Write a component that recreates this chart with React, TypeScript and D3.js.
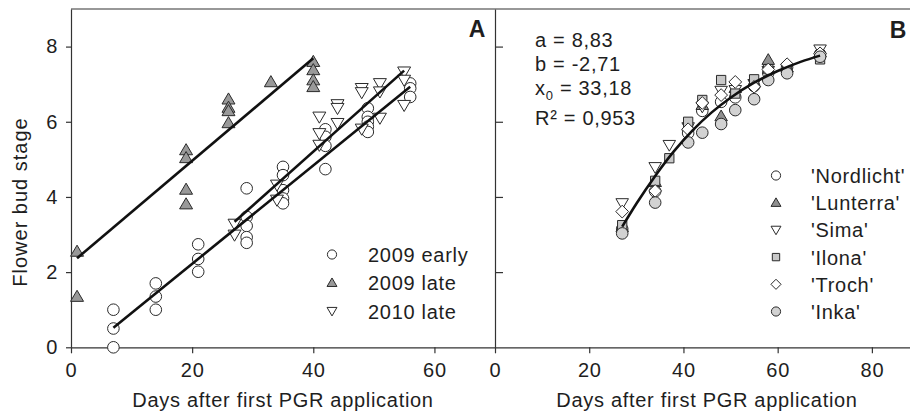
import React, { useEffect, useRef } from "react";
import * as d3 from "d3";

type Pt = [number, number];

// Panel A: flower bud stage per sampling date, three trials
const early2009: Pt[] = [
  [7, 1.0], [7, 0.5], [7, 0.0],
  [14, 1.7], [14, 1.35], [14, 1.0],
  [21, 2.74], [21, 2.35], [21, 2.01],
  [29, 4.23], [29, 3.47], [29, 3.23], [29, 2.93], [29, 2.78],
  [35, 4.8], [35, 4.58], [35, 4.18], [35, 3.96], [35, 3.83],
  [42, 5.8], [42, 5.6], [42, 5.36], [42, 4.74],
  [49, 6.36], [49, 6.13], [49, 6.0], [49, 5.87], [49, 5.73],
  [56, 7.02], [56, 6.89], [56, 6.66],
];
const late2009: Pt[] = [
  [1, 2.55], [1, 1.35],
  [19, 5.25], [19, 5.04], [19, 4.2], [19, 3.81],
  [26, 6.6], [26, 6.38], [26, 6.29], [26, 5.97],
  [33, 7.06],
  [40, 7.6], [40, 7.38], [40, 7.11], [40, 6.93],
];
const late2010: Pt[] = [
  [27, 3.28], [27, 2.99],
  [34, 4.32], [34, 3.92],
  [41, 6.13], [41, 5.69], [41, 5.38],
  [44, 6.46], [44, 6.36], [44, 5.96],
  [48, 6.89], [48, 6.78], [48, 5.81],
  [51, 7.02], [51, 6.8], [51, 6.1],
  [55, 7.33], [55, 7.11], [55, 6.44],
];
// regression lines (end points)
const fitEarly2009: Pt[] = [[7, 0.52], [56, 6.93]];
const fitLate2009: Pt[] = [[1, 2.37], [40, 7.69]];
const fitLate2010: Pt[] = [[27, 3.34], [55, 7.36]];

// Panel B: cultivars
const nordlicht: Pt[] = [[27, 3.15], [34, 4.15], [41, 5.7], [44, 6.29], [48, 6.53], [51, 6.65], [55, 6.95], [58, 7.3], [62, 7.45], [69, 7.8]];
const lunterra: Pt[] = [[27, 3.2], [34, 4.4], [41, 5.9], [44, 6.45], [48, 6.15], [51, 6.9], [55, 7.05], [58, 7.65], [62, 7.45], [69, 7.85]];
const sima: Pt[] = [[27, 3.83], [34, 4.79], [37, 5.38], [41, 5.85], [44, 6.4], [48, 6.82], [51, 6.84], [55, 7.0], [58, 7.35], [62, 7.4], [69, 7.92]];
const ilona: Pt[] = [[27, 3.25], [34, 4.43], [37, 5.03], [41, 6.0], [44, 6.58], [48, 7.11], [51, 6.75], [55, 7.13], [58, 7.4], [62, 7.45], [69, 7.66]];
const troch: Pt[] = [[27, 3.61], [34, 4.16], [41, 5.8], [44, 6.5], [48, 6.71], [51, 7.06], [55, 6.93], [58, 7.39], [62, 7.53], [69, 7.82]];
const inka: Pt[] = [[27, 3.03], [34, 3.85], [41, 5.45], [44, 5.71], [48, 5.94], [51, 6.31], [55, 6.6], [58, 7.11], [62, 7.29], [69, 7.73]];
// fitted sigmoid curve
const fitB: Pt[] = [[27, 3.21], [30, 3.82], [34, 4.56], [38, 5.22], [42, 5.78], [46, 6.25], [50, 6.64], [55, 7.04], [60, 7.35], [65, 7.6], [69, 7.76]];

const yTicks = [0, 2, 4, 6, 8];
const xTicksA = [0, 20, 40, 60];
const xTicksB = [0, 20, 40, 60, 80];
const legendA = ["2009 early", "2009 late", "2010 late"];
const legendB = ["'Nordlicht'", "'Lunterra'", "'Sima'", "'Ilona'", "'Troch'", "'Inka'"];
const fitText = ["a = 8,83", "b = -2,71", "x0 = 33,18", "R² = 0,953"];

const FONT = "'Liberation Sans', Arial, sans-serif";
const INK = "#1e1e1e";

// marker path centred on 0,0
const shape = (kind: string, s: number) => {
  if (kind === "circle") return `M${s},0A${s},${s} 0 1,1 ${-s},0A${s},${s} 0 1,1 ${s},0Z`;
  if (kind === "up") return `M0,${-s * 1.05}L${s * 1.08},${s * 0.8}L${-s * 1.08},${s * 0.8}Z`;
  if (kind === "down") return `M0,${s * 1.05}L${s * 1.08},${-s * 0.8}L${-s * 1.08},${-s * 0.8}Z`;
  if (kind === "square") return `M${-s * 0.8},${-s * 0.8}H${s * 0.8}V${s * 0.8}H${-s * 0.8}Z`;
  return `M0,${-s * 1.1}L${s * 1.1},0L0,${s * 1.1}L${-s * 1.1},0Z`;
};

const App = () => {
  const svgRef = useRef<SVGSVGElement>(null);

  useEffect(() => {
    const svg = d3.select(svgRef.current);
    svg.selectAll("*").remove();

    const top = 9, bottom = 347.3;
    const xA = d3.scaleLinear().domain([0, 70]).range([71, 495]);
    const xB = d3.scaleLinear().domain([0, 90]).range([495, 919]);
    const y = d3.scaleLinear().domain([0, 9]).range([bottom, top]);

    const styleAxis = (g: any, labels: boolean) => {
      g.select(".domain").attr("stroke", "#333").attr("stroke-width", 1.2);
      g.selectAll(".tick line").attr("stroke", "#333").attr("stroke-width", 1.2);
      g.selectAll(".tick text")
        .attr("fill", INK)
        .style("font-family", FONT)
        .style("font-size", "20px")
        .style("letter-spacing", "0.7px");
      if (!labels) g.selectAll(".tick text").remove();
    };

    // frame top
    svg.append("line")
      .attr("x1", 71).attr("x2", 910).attr("y1", top).attr("y2", top)
      .attr("stroke", "#333").attr("stroke-width", 1.2);

    svg.append("g").attr("transform", `translate(71,0)`)
      .call(d3.axisLeft(y).tickValues(yTicks).tickSize(5).tickSizeOuter(0).tickPadding(8))
      .call((g: any) => styleAxis(g, true));

    svg.append("g").attr("transform", `translate(495,0)`)
      .call(d3.axisRight(y).tickValues(yTicks.filter(t => t > 0)).tickSize(8).tickSizeOuter(0))
      .call((g: any) => styleAxis(g, false));

    svg.append("g").attr("transform", `translate(0,${bottom})`)
      .call(d3.axisBottom(xA).tickValues(xTicksA).tickSize(6).tickSizeOuter(0).tickPadding(10))
      .call((g: any) => styleAxis(g, true));

    svg.append("g").attr("transform", `translate(0,${bottom})`)
      .call(d3.axisBottom(xB).tickValues(xTicksB).tickSize(6).tickSizeOuter(0).tickPadding(10))
      .call((g: any) => styleAxis(g, true));

    const text = (x: number, yy: number, s: string, size = 20, anchor = "start") =>
      svg.append("text")
        .attr("x", x).attr("y", yy)
        .attr("text-anchor", anchor)
        .attr("fill", INK)
        .style("font-family", FONT)
        .style("font-size", `${size}px`)
        .style("letter-spacing", "0.7px")
        .text(s);

    text(283, 407, "Days after first PGR application", 20, "middle");
    text(707, 407, "Days after first PGR application", 20, "middle");
    svg.append("text")
      .attr("transform", "translate(27,202) rotate(-90)")
      .attr("text-anchor", "middle")
      .attr("fill", INK)
      .style("font-family", FONT)
      .style("font-size", "20px")
      .style("letter-spacing", "1px")
      .text("Flower bud stage");

    text(477, 37, "A", 23, "middle").style("font-weight", "bold").style("letter-spacing", "0");
    text(898, 38, "B", 23, "middle").style("font-weight", "bold").style("letter-spacing", "0");

    const drawPoints = (data: Pt[], xs: any, kind: string, fill: string, s: number) => {
      svg.append("g").selectAll("path")
        .data(data)
        .enter()
        .append("path")
        .attr("transform", d => `translate(${xs(d[0])},${y(d[1])})`)
        .attr("d", shape(kind, s))
        .attr("fill", fill)
        .attr("stroke", "#2a2a2a")
        .attr("stroke-width", 1);
    };

    const line = (xs: any) => d3.line<Pt>().x(d => xs(d[0])).y(d => y(d[1]));

    // panel A
    drawPoints(early2009, xA, "circle", "#fff", 5.8);
    drawPoints(late2009, xA, "up", "#999", 6);
    drawPoints(late2010, xA, "down", "#fff", 6);
    [fitEarly2009, fitLate2009, fitLate2010].forEach(f => {
      svg.append("path").attr("d", line(xA)(f)).attr("fill", "none")
        .attr("stroke", "#111").attr("stroke-width", 2.6);
    });

    const legA = [
      { kind: "circle", fill: "#fff" },
      { kind: "up", fill: "#999" },
      { kind: "down", fill: "#fff" },
    ];
    legendA.forEach((lab, i) => {
      const base = 262 + i * 28.3;
      svg.append("path")
        .attr("transform", `translate(332,${base - 7.5})`)
        .attr("d", shape(legA[i].kind, 4.6))
        .attr("fill", legA[i].fill).attr("stroke", "#2a2a2a").attr("stroke-width", 1);
      text(368, base, lab);
    });

    // panel B
    const seriesB = [
      { data: nordlicht, kind: "circle", fill: "#fff" },
      { data: lunterra, kind: "up", fill: "#8f8f8f" },
      { data: sima, kind: "down", fill: "#fff" },
      { data: ilona, kind: "square", fill: "#c8c8c8" },
      { data: troch, kind: "diamond", fill: "#fff" },
      { data: inka, kind: "circle", fill: "#d2d2d2" },
    ];
    seriesB.forEach(s => drawPoints(s.data, xB, s.kind, s.fill, 5.8));
    svg.append("path").attr("d", line(xB).curve(d3.curveMonotoneX)(fitB)).attr("fill", "none")
      .attr("stroke", "#111").attr("stroke-width", 2.6);

    legendB.forEach((lab, i) => {
      const base = 183 + i * 27.2;
      svg.append("path")
        .attr("transform", `translate(776,${base - 7.5})`)
        .attr("d", shape(seriesB[i].kind, 4.6))
        .attr("fill", seriesB[i].fill).attr("stroke", "#2a2a2a").attr("stroke-width", 1);
      text(811, base, lab);
    });

    // fit parameters
    const fitBase = [46.7, 70.7, 95, 125];
    fitText.forEach((t, i) => {
      if (t.startsWith("x0")) {
        const el = text(535, fitBase[i], "");
        el.append("tspan").text("x");
        el.append("tspan").attr("dy", 5).style("font-size", "13px").text("0");
        el.append("tspan").attr("dy", -5).text(t.slice(2));
      } else {
        text(535, fitBase[i], t);
      }
    });
  }, []);

  return (
    <svg
      ref={svgRef}
      width={910}
      height={416}
      style={{ position: "absolute", left: 0, top: 0, background: "#fff" }}
    />
  );
};

export default App;
